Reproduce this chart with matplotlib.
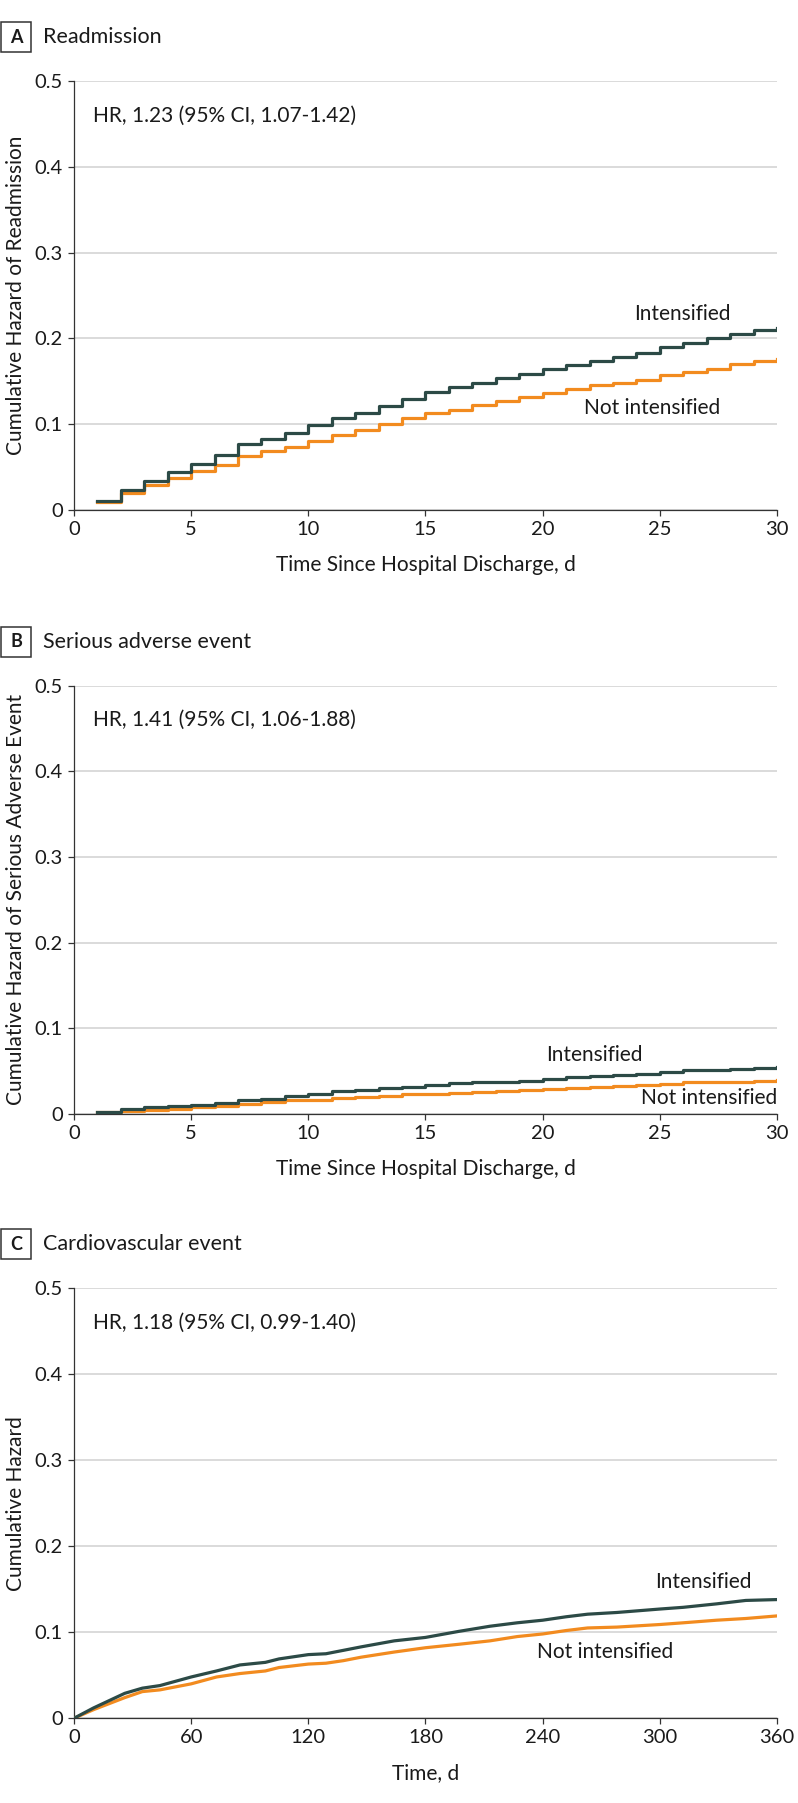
import matplotlib
matplotlib.use("Agg")
import matplotlib.pyplot as plt
from matplotlib.patches import Rectangle
from matplotlib.transforms import blended_transform_factory

plt.rcParams['font.family'] = ['Lato', 'DejaVu Sans']

# panel A: readmission, daily steps
days_a = list(range(1, 31))
readm_int = [0.011, 0.023, 0.034, 0.044, 0.054, 0.064, 0.077, 0.083, 0.090, 0.099,
             0.107, 0.113, 0.121, 0.130, 0.138, 0.143, 0.148, 0.154, 0.159, 0.164,
             0.169, 0.174, 0.178, 0.183, 0.190, 0.195, 0.200, 0.205, 0.210, 0.212]
readm_not = [0.009, 0.020, 0.029, 0.037, 0.045, 0.052, 0.063, 0.069, 0.074, 0.081,
             0.088, 0.093, 0.100, 0.107, 0.113, 0.117, 0.122, 0.127, 0.132, 0.137,
             0.141, 0.146, 0.148, 0.152, 0.157, 0.161, 0.165, 0.170, 0.174, 0.176]

# panel B: serious adverse event, daily steps
days_b = list(range(1, 31))
sae_int = [0.003, 0.006, 0.008, 0.009, 0.011, 0.013, 0.017, 0.018, 0.021, 0.023,
           0.027, 0.028, 0.030, 0.032, 0.034, 0.036, 0.037, 0.038, 0.039, 0.041,
           0.043, 0.044, 0.046, 0.047, 0.049, 0.051, 0.051, 0.053, 0.054, 0.055]
sae_not = [0.002, 0.004, 0.005, 0.006, 0.008, 0.009, 0.012, 0.014, 0.016, 0.017,
           0.019, 0.020, 0.021, 0.023, 0.024, 0.025, 0.026, 0.027, 0.028, 0.029,
           0.031, 0.032, 0.033, 0.034, 0.035, 0.037, 0.037, 0.038, 0.039, 0.040]

# panel C: cardiovascular event
days_c = [0, 10, 26, 35, 44, 60, 73, 85, 98, 105, 120, 129, 138, 147, 164, 180,
          197, 213, 227, 240, 252, 263, 278, 300, 312, 329, 344, 360]
cv_int = [0.0, 0.012, 0.029, 0.035, 0.038, 0.048, 0.055, 0.062, 0.065, 0.069,
          0.074, 0.075, 0.079, 0.083, 0.090, 0.094, 0.101, 0.107, 0.111, 0.114,
          0.118, 0.121, 0.123, 0.127, 0.129, 0.133, 0.137, 0.138]
cv_not = [0.0, 0.010, 0.024, 0.031, 0.033, 0.040, 0.048, 0.052, 0.055, 0.059,
          0.063, 0.064, 0.067, 0.071, 0.077, 0.082, 0.086, 0.090, 0.095, 0.098,
          0.102, 0.105, 0.106, 0.109, 0.111, 0.114, 0.116, 0.119]

c_int = "#2c4a46"
c_not = "#f28b1f"
ink = "#1a1a1a"

fig = plt.figure(figsize=(7.98, 18.03), dpi=100)

panels = [
    dict(letter="A", title="Readmission", bottom=0.7171, top=0.955,
         x=days_a, yi=readm_int, yn=readm_not, step=True, xmax=30,
         xticks=[0, 5, 10, 15, 20, 25, 30],
         xlabel="Time Since Hospital Discharge, d",
         ylabel="Cumulative Hazard of Readmission",
         hr="HR, 1.23 (95% CI, 1.07-1.42)",
         lab_i=(682, 0.228), lab_n=(652, 0.119)),
    dict(letter="B", title="Serious adverse event", bottom=0.3821, top=0.6198,
         x=days_b, yi=sae_int, yn=sae_not, step=True, xmax=30,
         xticks=[0, 5, 10, 15, 20, 25, 30],
         xlabel="Time Since Hospital Discharge, d",
         ylabel="Cumulative Hazard of Serious Adverse Event",
         hr="HR, 1.41 (95% CI, 1.06-1.88)",
         lab_i=(594, 0.069), lab_n=(709, 0.019)),
    dict(letter="C", title="Cardiovascular event", bottom=0.0470, top=0.2855,
         x=days_c, yi=cv_int, yn=cv_not, step=False, xmax=360,
         xticks=[0, 60, 120, 180, 240, 300, 360],
         xlabel="Time, d",
         ylabel="Cumulative Hazard",
         hr="HR, 1.18 (95% CI, 0.99-1.40)",
         lab_i=(703, 0.159), lab_n=(605, 0.077)),
]

W, H = 798, 1803
left, right = 74 / W, 777 / W

for p in panels:
    ax = fig.add_axes([left, p["bottom"], right - left, p["top"] - p["bottom"]])
    ds = "steps-post" if p["step"] else "default"
    ax.plot(p["x"], p["yn"], color=c_not, lw=2.3, drawstyle=ds, zorder=3)
    ax.plot(p["x"], p["yi"], color=c_int, lw=2.3, drawstyle=ds, zorder=4)

    ax.set_xlim(0, p["xmax"])
    ax.set_ylim(0, 0.5)
    ax.set_xticks(p["xticks"])
    ax.set_yticks([0, 0.1, 0.2, 0.3, 0.4, 0.5])
    ax.set_yticklabels(["0", "0.1", "0.2", "0.3", "0.4", "0.5"])
    ax.yaxis.grid(True, color="#d4d4d4", lw=1.2)
    ax.set_axisbelow(True)
    for s in ["top", "right"]:
        ax.spines[s].set_visible(False)
    for s in ["left", "bottom"]:
        ax.spines[s].set_color("#333333")
        ax.spines[s].set_linewidth(0.9)
    ax.tick_params(axis="both", direction="out", length=4, width=0.9,
                   color="#333333", labelsize=14.5, labelcolor=ink, pad=4)
    ax.set_xlabel(p["xlabel"], fontsize=15, color=ink, labelpad=12)
    ax.set_ylabel(p["ylabel"], fontsize=15, color=ink)
    ax.yaxis.set_label_coords(-0.068, 0.5)

    ax.text(0.027, 0.92, p["hr"], transform=ax.transAxes, fontsize=15,
            color=ink, va="center", ha="left")

    tr = blended_transform_factory(fig.transFigure, ax.transData)
    ax.text(p["lab_i"][0] / W, p["lab_i"][1], "Intensified", fontsize=15,
            color=ink, ha="center", va="center", transform=tr)
    ax.text(p["lab_n"][0] / W, p["lab_n"][1], "Not intensified", fontsize=15,
            color=ink, ha="center", va="center", transform=tr)

    # panel header with boxed letter
    yc = p["top"] + 44 / H
    box_h = 30 / H
    fig.patches.append(Rectangle((1 / W, yc - box_h / 2), 30 / W, box_h,
                                 transform=fig.transFigure, fill=False,
                                 edgecolor="#333333", lw=1.1))
    fig.text(16 / W, yc, p["letter"], fontsize=13, fontweight="bold",
             ha="center", va="center", color=ink)
    fig.text(43 / W, yc, p["title"], fontsize=15.5, ha="left", va="center",
             color=ink)

fig.savefig("out.png", dpi=100)
